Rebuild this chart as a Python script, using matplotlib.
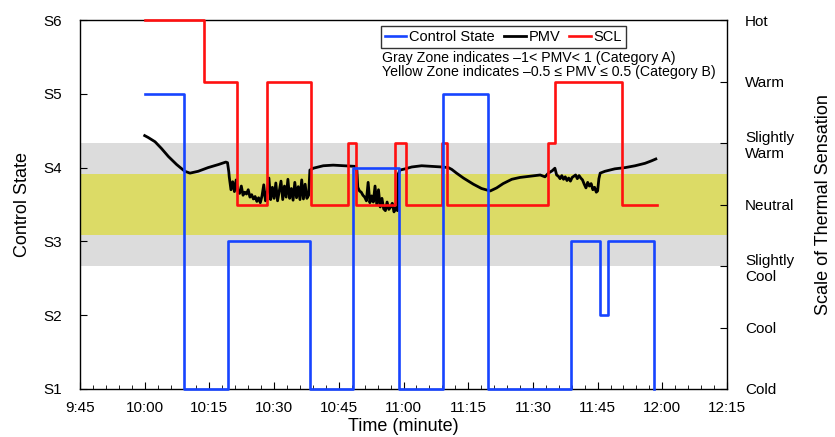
import matplotlib
matplotlib.use('Agg')
import matplotlib.pyplot as plt
from matplotlib.ticker import MultipleLocator

plt.rcParams['font.family'] = ['Liberation Sans', 'DejaVu Sans']

# time in minutes after 10:00
ctrl_t = [0, 9.1, 19.3, 38.3, 48.3, 59.0, 69.2, 79.6, 98.8, 105.6, 107.4, 118.1]
ctrl_s = [5, 1, 3, 1, 4, 1, 5, 1, 3, 2, 3, 1]

scl_t = [0, 13.75, 21.3, 28.3, 38.5, 47.1, 49.0, 58.1, 60.6, 68.9, 70.2, 93.4, 95.1, 110.6, 118.7]
scl_v = [3, 2, 0, 2, 0, 1, 0, 1, 0, 1, 0, 1, 2, 0, 0]

pmv_t = [0, 0.8, 2.4, 3.9, 5.5, 7.4, 9.3, 10.5, 12.4, 14.7, 17.1, 18.8, 19.2, 19.5,
         19.6, 20.0, 20.4, 20.8, 21.2, 21.6, 22.0, 22.4, 22.8, 23.2, 23.6, 24.0, 24.4, 24.8,
         25.2, 25.6, 26.0, 26.4, 26.8, 27.2, 27.6, 28.0, 28.4, 28.8, 29.2, 29.6, 30.0, 30.4,
         30.8, 31.2, 31.6, 32.0, 32.4, 32.8, 33.2, 33.6, 34.0, 34.4, 34.8, 35.2, 35.6, 36.0,
         36.4, 36.8, 37.2, 37.6, 38.0,
         38.3, 39.1, 41.4, 43.7, 46.4, 48.8, 49.2,
         49.4, 49.8, 50.2, 50.6, 51.0, 51.4, 51.8, 52.2, 52.6, 53.0, 53.4, 53.8, 54.2, 54.6,
         55.0, 55.4, 55.8, 56.2, 56.6, 57.0, 57.4, 57.8, 58.2, 58.6,
         58.8, 59.2, 60.4, 61.9, 64.2, 66.5, 68.9, 70.4, 71.2, 72.3, 73.9, 76.2, 78.1, 80.1,
         81.6, 83.1, 85.1, 87.0, 89.3, 91.7, 92.8, 93.6, 94.5, 95.1, 95.5,
         95.9, 96.3, 96.7, 97.1, 97.5, 97.9, 98.3, 98.7, 99.1, 99.5, 99.9, 100.3, 100.7, 101.1,
         101.5, 101.9, 102.3, 102.7, 103.1, 103.5, 103.9, 104.3, 104.7, 105.0,
         105.3, 105.6, 106.7, 109.0, 111.4, 113.7, 116.0, 117.5, 118.5]
pmv_v = [1.12, 1.09, 1.02, 0.91, 0.78, 0.65, 0.54, 0.51, 0.54, 0.60, 0.65, 0.69, 0.68, 0.53,
         0.45, 0.24, 0.37, 0.21, 0.40, 0.22, 0.18, 0.30, 0.15, 0.20, 0.17, 0.24, 0.12, 0.16,
         0.09, 0.13, 0.05, 0.11, 0.03, 0.14, 0.32, 0.06, 0.20, 0.43, 0.08, 0.28, 0.10, 0.35,
         0.06, 0.22, 0.38, 0.08, 0.30, 0.12, 0.41, 0.10, 0.26, 0.07, 0.36, 0.11, 0.29, 0.08,
         0.40, 0.09, 0.33, 0.10, 0.15,
         0.56, 0.59, 0.63, 0.64, 0.63, 0.62, 0.55,
         0.28, 0.22, 0.20, 0.15, 0.12, 0.06, 0.36, 0.03, 0.14, 0.04, 0.30, 0.00, 0.24, -0.04,
         0.10, -0.07, -0.10, 0.04, -0.08, -0.04, 0.02, -0.12, -0.05, -0.10,
         0.50, 0.56, 0.58, 0.61, 0.63, 0.62, 0.61, 0.60, 0.57, 0.51, 0.43, 0.33, 0.26, 0.22,
         0.27, 0.34, 0.41, 0.44, 0.46, 0.48, 0.45, 0.51, 0.55, 0.59, 0.48,
         0.46, 0.42, 0.47, 0.41, 0.45, 0.39, 0.43, 0.38, 0.44, 0.46, 0.48, 0.42, 0.47, 0.43,
         0.40, 0.33, 0.27, 0.36, 0.30, 0.34, 0.24, 0.28, 0.20, 0.22,
         0.42, 0.51, 0.54, 0.58, 0.60, 0.63, 0.67, 0.71, 0.74]

x_ticks = [-15, 0, 15, 30, 45, 60, 75, 90, 105, 120, 135]
x_labels = ['9:45', '10:00', '10:15', '10:30', '10:45', '11:00', '11:15',
            '11:30', '11:45', '12:00', '12:15']
state_labels = ['S1', 'S2', 'S3', 'S4', 'S5', 'S6']
sens_ticks = [-3, -2, -1, 0, 1, 2, 3]
sens_labels = ['Cold', 'Cool', 'Slightly\nCool', 'Neutral', 'Slightly\nWarm', 'Warm', 'Hot']

fig = plt.figure(figsize=(8.35, 4.37), dpi=100)
ax1 = fig.add_axes([80/835, 48/437, 647/835, 369/437])
ax2 = ax1.twinx()
ax1.set_zorder(ax2.get_zorder() + 1)
ax1.patch.set_visible(False)

# comfort zones
ax2.axhspan(-1, 1, color='#dcdcdc', lw=0, zorder=0)
ax2.axhspan(-0.5, 0.5, color='#dcdb66', lw=0, zorder=1)

l_pmv, = ax2.plot(pmv_t, pmv_v, color='black', lw=2.0, zorder=3)
l_scl, = ax2.step(scl_t, scl_v, where='post', color='#ff1010', lw=1.9, zorder=4, clip_on=False)
l_ctrl, = ax1.step(ctrl_t, ctrl_s, where='post', color='#1744ff', lw=1.9, zorder=5, clip_on=False)

ax1.set_xlim(-15, 135)
ax1.set_ylim(1, 6)
ax2.set_ylim(-3, 3)
ax1.set_xticks(x_ticks)
ax1.set_xticklabels(x_labels)
ax1.xaxis.set_minor_locator(MultipleLocator(3))
ax1.set_yticks(range(1, 7))
ax1.set_yticklabels(state_labels)
ax2.set_yticks(sens_ticks)
ax2.set_yticklabels(sens_labels)

ax1.tick_params(axis='x', which='major', direction='in', length=5, labelsize=11, pad=9)
ax1.tick_params(axis='x', which='minor', direction='in', length=3)
ax1.tick_params(axis='y', direction='in', length=5, labelsize=11, pad=13)
ax2.tick_params(axis='y', direction='in', length=5, labelsize=11, pad=13)
# frame drawn by the lower axes so the red line sits over it
for sp in ax1.spines.values():
    sp.set_visible(False)
for sp in ax2.spines.values():
    sp.set_linewidth(1.0)
    sp.set_zorder(2)

ax1.set_xlabel('Time (minute)', fontsize=13, labelpad=2)
ax1.set_ylabel('Control State', fontsize=13, labelpad=9)
ax2.set_ylabel('Scale of Thermal Sensation', fontsize=13, labelpad=15)

leg = ax1.legend([l_ctrl, l_pmv, l_scl], ['Control State', 'PMV', 'SCL'],
                 loc='upper left', bbox_to_anchor=(0.465, 0.983), ncol=3, fontsize=10.5,
                 frameon=True, fancybox=False, edgecolor='black', handlelength=1.5,
                 handletextpad=0.2, columnspacing=0.6, borderpad=0.25, borderaxespad=0)
leg.get_frame().set_linewidth(1.0)
ax1.text(0.467, 0.915, 'Gray Zone indicates \u20131< PMV< 1 (Category A)\n'
         'Yellow Zone indicates \u20130.5 \u2264 PMV \u2264 0.5 (Category B)',
         transform=ax1.transAxes, fontsize=10.2, va='top', ha='left', linespacing=1.0)

fig.savefig('out.png', dpi=100)
